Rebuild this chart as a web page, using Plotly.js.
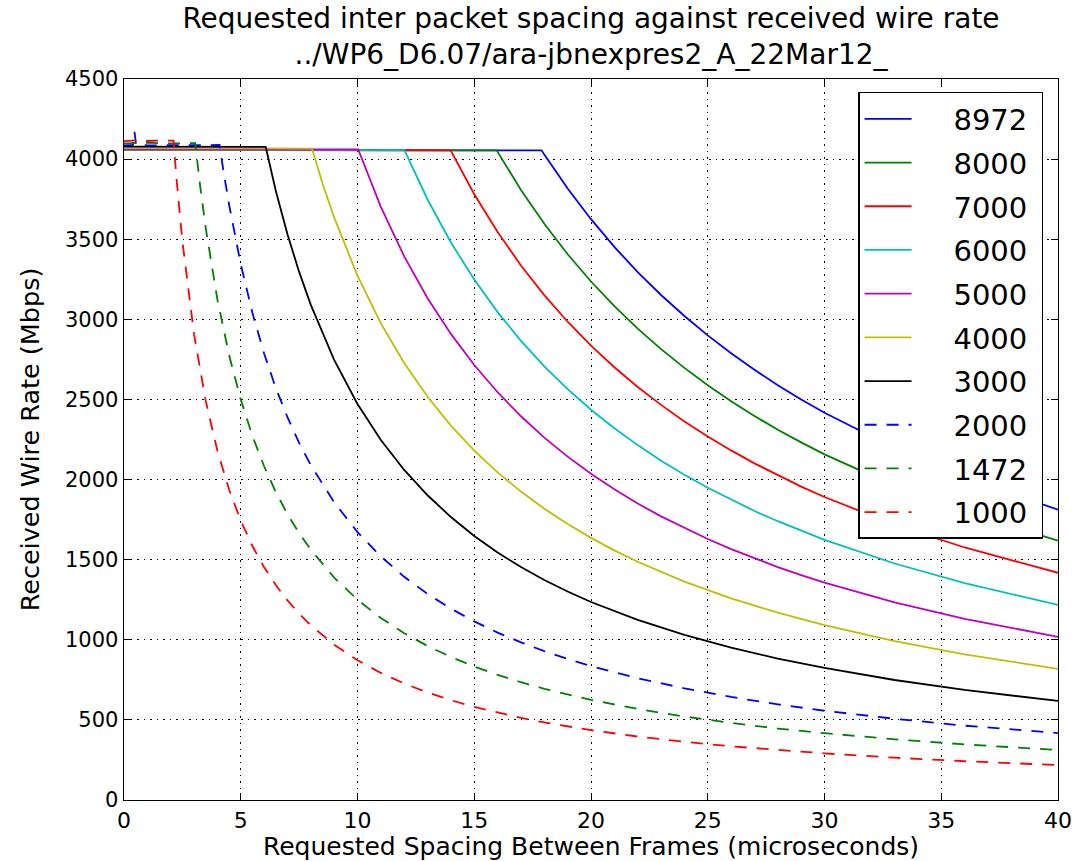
<!DOCTYPE html>
<html>
<head>
<meta charset="utf-8">
<script src="https://cdn.plot.ly/plotly-3.0.1.min.js"></script>
<style>html,body{margin:0;padding:0;background:#fff;}#chart{width:1076px;height:861px;}</style>
</head>
<body>
<div id="chart"></div>
<script>
// Frame sizes (legend labels)
const seriesNames = ["8972", "8000", "7000", "6000", "5000", "4000", "3000", "2000", "1472", "1000"];

// Requested spacing (microseconds) and received wire rate (Mbps)
const x8972 = [0, 5, 10, 15, 17.88, 18, 19, 20, 21, 22, 23, 24, 25, 26, 27, 28, 29, 30, 33, 36, 40];
const y8972 = [4058, 4055, 4056, 4055, 4055, 4028, 3816, 3625, 3452, 3295, 3152, 3021, 2900, 2788, 2685, 2589, 2500, 2417, 2197, 2014, 1812];

const x8000 = [0, 5, 10, 15.96, 17, 18, 19, 20, 21, 22, 23, 24, 25, 26, 27, 28, 29, 30, 33, 36, 40];
const y8000 = [4057, 4055, 4055, 4055, 3807, 3596, 3406, 3236, 3082, 2942, 2814, 2697, 2589, 2489, 2397, 2311, 2232, 2157, 1961, 1798, 1618];

const x7000 = [0, 5, 10, 13.99, 15, 16, 17, 18, 19, 20, 21, 22, 23, 24, 25, 26, 27, 28, 29, 30, 33, 36, 40];
const y7000 = [4057, 4055, 4055, 4055, 3781, 3545, 3336, 3151, 2985, 2836, 2701, 2578, 2466, 2363, 2269, 2182, 2101, 2026, 1956, 1891, 1719, 1576, 1418];

const x6000 = [0, 5, 12.01, 13, 14, 15, 16, 17, 18, 19, 20, 21, 22, 23, 24, 25, 26, 27, 28, 29, 30, 33, 36, 40];
const y6000 = [4058, 4056, 4056, 3748, 3480, 3248, 3045, 2866, 2707, 2564, 2436, 2320, 2215, 2118, 2030, 1949, 1874, 1804, 1740, 1680, 1624, 1476, 1353, 1218];

const x5000 = [0, 5, 10.03, 11, 12, 13, 14, 15, 16, 17, 18, 19, 20, 21, 22, 23, 24, 25, 26, 27, 28, 29, 30, 33, 36, 40];
const y5000 = [4062, 4060, 4060, 3702, 3393, 3132, 2909, 2715, 2545, 2395, 2262, 2143, 2036, 1939, 1851, 1770, 1697, 1629, 1566, 1508, 1454, 1404, 1357, 1234, 1131, 1018];

const x4000 = [0, 4, 8.05, 8.5, 9, 10, 11, 12, 13, 14, 15, 16, 17, 18, 19, 20, 21, 22, 23, 24, 26, 28, 30, 33, 36, 40];
const y4000 = [4068, 4066, 4066, 3849, 3636, 3272, 2975, 2727, 2517, 2337, 2181, 2045, 1925, 1818, 1722, 1636, 1558, 1487, 1423, 1363, 1258, 1169, 1091, 992, 909, 818];

const x3000 = [0, 3, 6.07, 6.5, 7, 7.5, 8, 9, 10, 11, 12, 13, 14, 15, 16, 17, 18, 19, 20, 22, 24, 26, 28, 30, 33, 36, 40];
const y3000 = [4078, 4076, 4076, 3803, 3531, 3296, 3090, 2747, 2472, 2247, 2060, 1902, 1766, 1648, 1545, 1454, 1373, 1301, 1236, 1124, 1030, 951, 883, 824, 749, 687, 618];

const x2000 = [0, 0.38, 0.45, 0.52, 1, 2, 3, 4.09, 4.25, 4.5, 5, 5.5, 6, 6.5, 7, 7.5, 8, 9, 10, 11, 12, 13, 14, 15, 16, 17, 18, 19, 20, 22, 24, 26, 28, 30, 33, 36, 40];
const y2000 = [4086, 4088, 4170, 4088, 4086, 4088, 4087, 4088, 3934, 3716, 3344, 3040, 2787, 2572, 2389, 2229, 2090, 1858, 1672, 1520, 1393, 1286, 1194, 1115, 1045, 984, 929, 880, 836, 760, 697, 643, 597, 557, 507, 464, 418];

const x1472 = [0, 1, 2, 3.05, 3.25, 3.5, 4, 4.5, 5, 5.5, 6, 6.5, 7, 7.5, 8, 9, 10, 11, 12, 13, 14, 15, 16, 17, 18, 19, 20, 22, 24, 26, 28, 30, 33, 36, 40];
const y1472 = [4098, 4102, 4098, 4100, 3845, 3570, 3124, 2777, 2499, 2272, 2083, 1922, 1785, 1666, 1562, 1388, 1250, 1136, 1041, 961, 893, 833, 781, 735, 694, 658, 625, 568, 521, 481, 446, 417, 379, 347, 312];

const x1000 = [0, 0.5, 1, 1.5, 2.12, 2.25, 2.5, 3, 3.5, 4, 4.5, 5, 5.5, 6, 6.5, 7, 7.5, 8, 9, 10, 11, 12, 13, 14, 15, 16, 17, 18, 19, 20, 22, 24, 26, 28, 30, 33, 36, 40];
const y1000 = [4112, 4117, 4113, 4116, 4115, 3876, 3488, 2907, 2491, 2180, 1938, 1744, 1585, 1453, 1342, 1246, 1163, 1090, 969, 872, 793, 727, 671, 623, 581, 545, 513, 484, 459, 436, 396, 363, 335, 311, 291, 264, 242, 218];

const xs = [x8972, x8000, x7000, x6000, x5000, x4000, x3000, x2000, x1472, x1000];
const ys = [y8972, y8000, y7000, y6000, y5000, y4000, y3000, y2000, y1472, y1000];
const colors = ["#0000ff", "#008000", "#ff0000", "#00bfbf", "#bf00bf", "#bfbf00", "#000000", "#0000ff", "#008000", "#ff0000"];
const dashes = ["solid", "solid", "solid", "solid", "solid", "solid", "solid", "12px,10px", "12px,10px", "12px,10px"];

const FONT = "DejaVu Sans, Liberation Sans, sans-serif";
const PAD = "\u00a0\u00a0\u00a0\u00a0";

const traces = seriesNames.map((name, i) => ({
  type: "scatter",
  mode: "lines",
  name: PAD + name + "\u00a0",
  legendgroup: "g" + i,
  x: xs[i],
  y: ys[i],
  line: {color: colors[i], width: 1.8, dash: dashes[i]},
  hoverinfo: "x+y"
}));

const axisCommon = {
  showline: true,
  linecolor: "#000000",
  linewidth: 1.4,
  mirror: "allticks",
  ticks: "inside",
  ticklen: 7,
  tickwidth: 1,
  tickcolor: "#000000",
  showgrid: true,
  gridcolor: "#000000",
  gridwidth: 1,
  griddash: "1.5px,5px",
  zeroline: false
};

const layout = {
  width: 1076,
  height: 861,
  paper_bgcolor: "#ffffff",
  plot_bgcolor: "#ffffff",
  margin: {l: 124, r: 18, t: 79, b: 61},
  title: {
    text: "Requested inter packet spacing against received wire rate<br>../WP6_D6.07/ara-jbnexpres2_A_22Mar12_",
    font: {family: FONT, size: 28, color: "#000000"},
    x: 0.5, xref: "paper", xanchor: "center",
    y: 0.9675, yref: "container", yanchor: "top"
  },
  xaxis: Object.assign({}, axisCommon, {
    range: [0, 40],
    tick0: 0, dtick: 5,
    tickfont: {family: FONT, size: 22, color: "#000000"},
    title: {text: "Requested Spacing Between Frames (microseconds)", font: {family: FONT, size: 25, color: "#000000"}, standoff: 3}
  }),
  yaxis: Object.assign({}, axisCommon, {
    range: [0, 4500],
    tick0: 0, dtick: 500,
    tickfont: {family: FONT, size: 21, color: "#000000"},
    title: {text: "Received Wire Rate (Mbps)", font: {family: FONT, size: 25.5, color: "#000000"}, standoff: 18}
  }),
  showlegend: true,
  legend: {
    x: 0.984, xanchor: "right",
    y: 0.982, yanchor: "top",
    bgcolor: "#ffffff",
    bordercolor: "#000000",
    borderwidth: 1.5,
    font: {family: FONT, size: 29, color: "#000000"},
    traceorder: "grouped",
    tracegroupgap: 3,
    itemwidth: 47
  }
};

Plotly.newPlot("chart", traces, layout, {displayModeBar: false, staticPlot: true});
</script>
</body>
</html>
